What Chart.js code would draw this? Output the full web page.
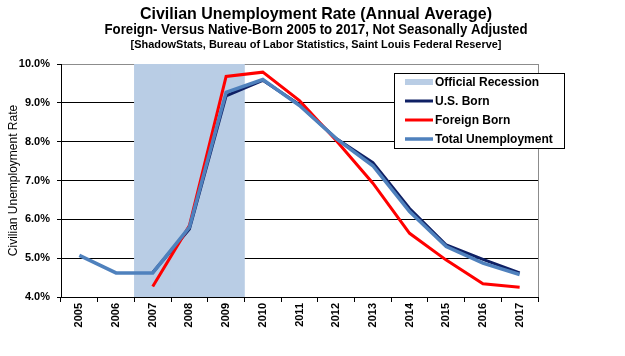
<!DOCTYPE html>
<html>
<head>
<meta charset="utf-8">
<script src="https://cdn.jsdelivr.net/npm/chart.js@4"></script>
<style>
  html, body { margin: 0; padding: 0; background: #ffffff; }
  #wrap { width: 625px; height: 356px; }
</style>
</head>
<body>
<div id="wrap"><canvas id="c" width="625" height="356"></canvas></div>
<script>
const categories = ['2005','2006','2007','2008','2009','2010','2011','2012','2013','2014','2015','2016','2017'];
const recession   = [null, null, 10, 10, 10, null, null, null, null, null, null, null, null];
const usBorn      = [null, null, 4.63, 5.75, 9.18, 9.58, 8.95, 8.08, 7.46, 6.28, 5.34, 4.97, 4.62];
const foreignBorn = [null, null, 4.27, 5.84, 9.68, 9.79, 9.06, 8.03, 6.93, 5.64, 4.95, 4.34, 4.25];
const totalUnemp  = [5.07, 4.62, 4.62, 5.80, 9.27, 9.60, 8.93, 8.08, 7.38, 6.20, 5.30, 4.87, 4.58];
const yMin = 4, yMax = 10, yStep = 1;

const titleLines = [
  { text: 'Civilian Unemployment Rate (Annual Average)', font: 'bold 17px "Liberation Sans", Arial, sans-serif', y: 14, w: 352 },
  { text: 'Foreign- Versus Native-Born 2005 to 2017, Not Seasonally Adjusted', font: 'bold 14px "Liberation Sans", Arial, sans-serif', y: 30, w: 423 },
  { text: '[ShadowStats, Bureau of Labor Statistics, Saint Louis Federal Reserve]', font: 'bold 11px "Liberation Sans", Arial, sans-serif', y: 45, w: 371 }
];

const headings = {
  id: 'headings',
  afterDraw(chart) {
    const ctx = chart.ctx;
    ctx.save();
    ctx.fillStyle = '#000';
    ctx.textAlign = 'center';
    ctx.textBaseline = 'middle';
    titleLines.forEach(l => {
      ctx.font = l.font;
      const m = ctx.measureText(l.text).width;
      const sx = l.w / m;
      ctx.save();
      ctx.translate(316, l.y);
      ctx.scale(sx, 1);
      ctx.fillText(l.text, 0, 0);
      ctx.restore();
    });
    ctx.restore();
  }
};

const frame = {
  id: 'frame',
  beforeDatasetsDraw(chart) {
    const {ctx, chartArea: a} = chart;
    ctx.save();
    ctx.strokeStyle = '#8c8c8c';
    ctx.lineWidth = 1;
    ctx.beginPath();
    ctx.moveTo(Math.round(a.right) + 0.5, a.top);
    ctx.lineTo(Math.round(a.right) + 0.5, a.bottom);
    ctx.stroke();
    ctx.restore();
  }
};

const customLegend = {
  id: 'customLegend',
  afterDraw(chart) {
    const ctx = chart.ctx;
    const bx = 394.5, by = 73.5, bw = 170, bh = 75;
    ctx.save();
    ctx.fillStyle = '#fff';
    ctx.fillRect(bx, by, bw, bh);
    ctx.strokeStyle = '#000';
    ctx.lineWidth = 1;
    ctx.strokeRect(bx, by, bw, bh);
    const order = [0, 1, 2, 3];
    ctx.font = 'bold 12px "Liberation Sans", Arial, sans-serif';
    ctx.textBaseline = 'middle';
    ctx.textAlign = 'left';
    order.forEach((di, i) => {
      const ds = chart.data.datasets[di];
      const y = 82 + i * 19;
      ctx.strokeStyle = ds.legendColor;
      ctx.lineWidth = ds.legendWidth;
      ctx.beginPath();
      ctx.moveTo(405, y);
      ctx.lineTo(433, y);
      ctx.stroke();
      ctx.fillStyle = '#000';
      ctx.fillText(ds.label, 435, y + 0.5);
    });
    ctx.restore();
  }
};

new Chart(document.getElementById('c'), {
  data: {
    labels: categories,
    datasets: [
      { type: 'bar', label: 'Official Recession', data: recession, backgroundColor: '#B9CDE5',
        borderWidth: 0, barPercentage: 1, categoryPercentage: 1, order: 10,
        legendColor: '#B9CDE5', legendWidth: 6 },
      { type: 'line', label: 'U.S. Born', data: usBorn, borderColor: '#0F2064', borderWidth: 3,
        pointRadius: 0, tension: 0, order: 3, legendColor: '#0F2064', legendWidth: 3 },
      { type: 'line', label: 'Foreign Born', data: foreignBorn, borderColor: '#FF0000', borderWidth: 3,
        pointRadius: 0, tension: 0, order: 2, legendColor: '#FF0000', legendWidth: 3 },
      { type: 'line', label: 'Total Unemployment', data: totalUnemp, borderColor: '#4F81BD', borderWidth: 3.5,
        pointRadius: 0, tension: 0, order: 1, legendColor: '#4F81BD', legendWidth: 3.5 }
    ]
  },
  options: {
    responsive: false,
    animation: false,
    devicePixelRatio: 1,
    layout: { padding: { top: 64, left: 0, right: 87, bottom: 0 } },
    plugins: { legend: { display: false }, title: { display: false }, tooltip: { enabled: false } },
    scales: {
      x: {
        offset: true,
        grid: { offset: true, drawOnChartArea: false, drawTicks: true, tickLength: 5, tickColor: '#000' },
        border: { display: true, color: '#000', width: 1 },
        ticks: { color: '#000', maxRotation: 90, minRotation: 90, padding: 1, autoSkip: false,
          font: { family: '"Liberation Sans", Arial, sans-serif', size: 11, weight: 'bold' } },
        afterFit(scale) { scale.height = 59; }
      },
      y: {
        min: yMin, max: yMax,
        grid: {
          color: ctx => (ctx.tick && ctx.tick.value === yMax) ? '#8c8c8c' : '#000',
          tickColor: '#000', tickLength: 4, lineWidth: 1
        },
        border: { display: true, color: '#000', width: 1 },
        ticks: { stepSize: yStep, color: '#000', padding: 7,
          callback: v => v.toFixed(1) + '%',
          font: { family: '"Liberation Sans", Arial, sans-serif', size: 11, weight: 'bold' } },
        title: { display: true, text: 'Civilian Unemployment Rate', color: '#000',
          padding: { top: 6, bottom: 0 },
          font: { family: '"Liberation Sans", Arial, sans-serif', size: 12, weight: 'normal' } },
        afterFit(scale) { scale.width = 61; }
      }
    }
  },
  plugins: [frame, headings, customLegend]
});
</script>
</body>
</html>
